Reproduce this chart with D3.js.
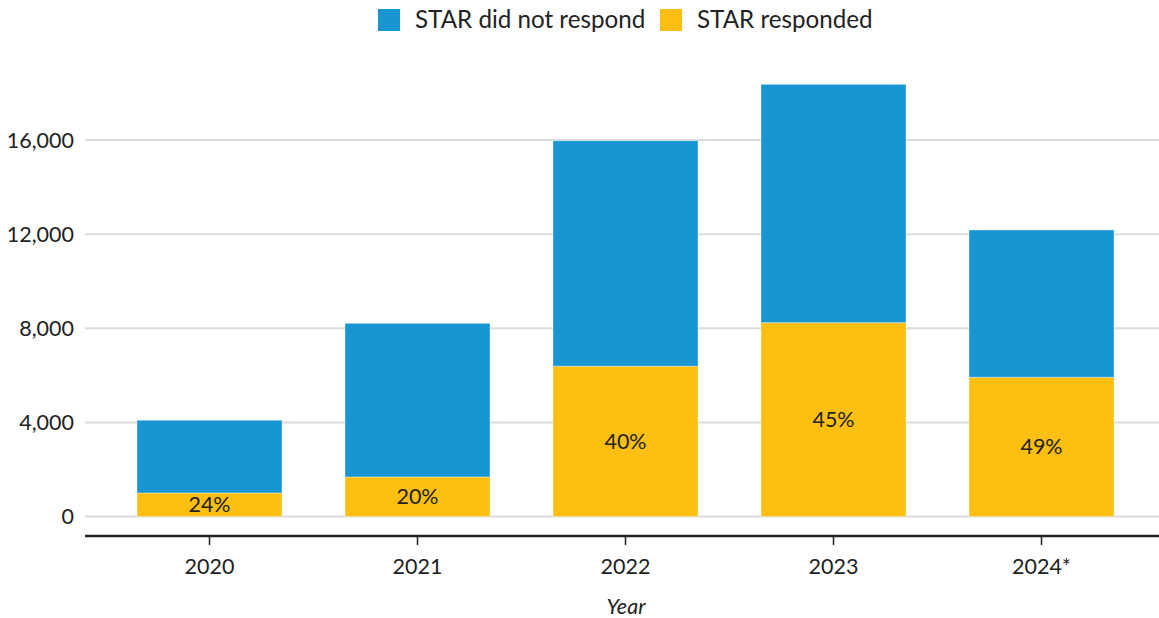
<!DOCTYPE html>
<html><head><meta charset="utf-8">
<script src="https://cdn.jsdelivr.net/npm/d3@7"></script>
<style>
html,body{margin:0;padding:0;background:#fff;}
svg{display:block;font-family:Lato,"Noto Sans",sans-serif;}
</style></head><body>
<svg id="chart" width="1159" height="618"></svg>
<script>
const years = ["2020","2021","2022","2023","2024*"];
const responded = [1000, 1680, 6390, 8240, 5920];
const notResponded = [3090, 6530, 9580, 10130, 6260];
const pctLabels = ["24%","20%","40%","45%","49%"];
const yTicks = [0, 4000, 8000, 12000, 16000];
const seriesNames = ["STAR did not respond","STAR responded"];
const colors = {"STAR did not respond":"#1896d3","STAR responded":"#fdbf12"};

const svg = d3.select("#chart");
const left = 85, right = 1159, y0 = 516.5, yTop = 140.1;
const fs = 21.5;

const x = d3.scaleBand().domain(years).range([105.5, 1145.5]).paddingInner(0.303).paddingOuter(0.1515);
const y = d3.scaleLinear().domain([0, 16000]).range([y0, yTop]);

// gridlines
svg.append("g").selectAll("line").data(yTicks).join("line")
  .attr("x1", left).attr("x2", right)
  .attr("y1", d => y(d)).attr("y2", d => y(d))
  .attr("stroke", "#dcdcdc").attr("stroke-width", 2);

// y labels
svg.append("g").selectAll("text").data(yTicks).join("text")
  .attr("x", 74).attr("y", d => y(d)).attr("dy", "0.35em")
  .attr("text-anchor", "end").attr("font-size", fs).attr("fill", "#222")
  .text(d => d3.format(",")(d));

const data = years.map((yr, i) => ({year: yr, "STAR responded": responded[i], "STAR did not respond": notResponded[i], pct: pctLabels[i]}));
const stack = d3.stack().keys(["STAR responded","STAR did not respond"])(data);

svg.append("g").selectAll("g").data(stack).join("g")
  .attr("fill", d => colors[d.key])
  .selectAll("rect").data(d => d).join("rect")
  .attr("x", d => x(d.data.year))
  .attr("width", x.bandwidth())
  .attr("y", d => y(d[1]))
  .attr("height", d => y(d[0]) - y(d[1]))
  .attr("stroke", "rgba(255,255,255,0.35)").attr("stroke-width", 1);

// percentage labels
svg.append("g").selectAll("text").data(stack[0]).join("text")
  .attr("x", d => x(d.data.year) + x.bandwidth()/2)
  .attr("y", d => (y(d[0]) + y(d[1]))/2)
  .attr("dy", "0.35em")
  .attr("text-anchor", "middle").attr("font-size", fs).attr("fill", "#222")
  .text(d => d.data.pct);

// x axis
const xAxis = svg.append("g").attr("transform", "translate(0,536)");
xAxis.append("line").attr("x1", left).attr("x2", right).attr("y1", 0).attr("y2", 0)
  .attr("stroke", "#222").attr("stroke-width", 2.5);
xAxis.selectAll("line.tick").data(years).join("line").attr("class","tick")
  .attr("x1", d => x(d) + x.bandwidth()/2).attr("x2", d => x(d) + x.bandwidth()/2)
  .attr("y1", 0).attr("y2", 9).attr("stroke", "#222").attr("stroke-width", 1.5);
xAxis.selectAll("text").data(years).join("text")
  .attr("x", d => x(d) + x.bandwidth()/2).attr("y", 38)
  .attr("text-anchor", "middle").attr("font-size", fs).attr("fill", "#222")
  .text(d => d);

svg.append("text").attr("x", (left + right)/2 + 4).attr("y", 614)
  .attr("text-anchor", "middle").attr("font-size", fs).attr("font-style", "italic").attr("fill", "#222")
  .text("Year");

// legend
const legend = svg.append("g");
const lx = [378, 660];
seriesNames.forEach((name, i) => {
  legend.append("rect").attr("x", lx[i]).attr("y", 9).attr("width", 22).attr("height", 22).attr("fill", colors[name]);
  legend.append("text").attr("x", lx[i] + 37).attr("y", 20).attr("dy", "0.35em")
    .attr("font-size", 24.2).attr("fill", "#222").text(name);
});
</script>
</body></html>
